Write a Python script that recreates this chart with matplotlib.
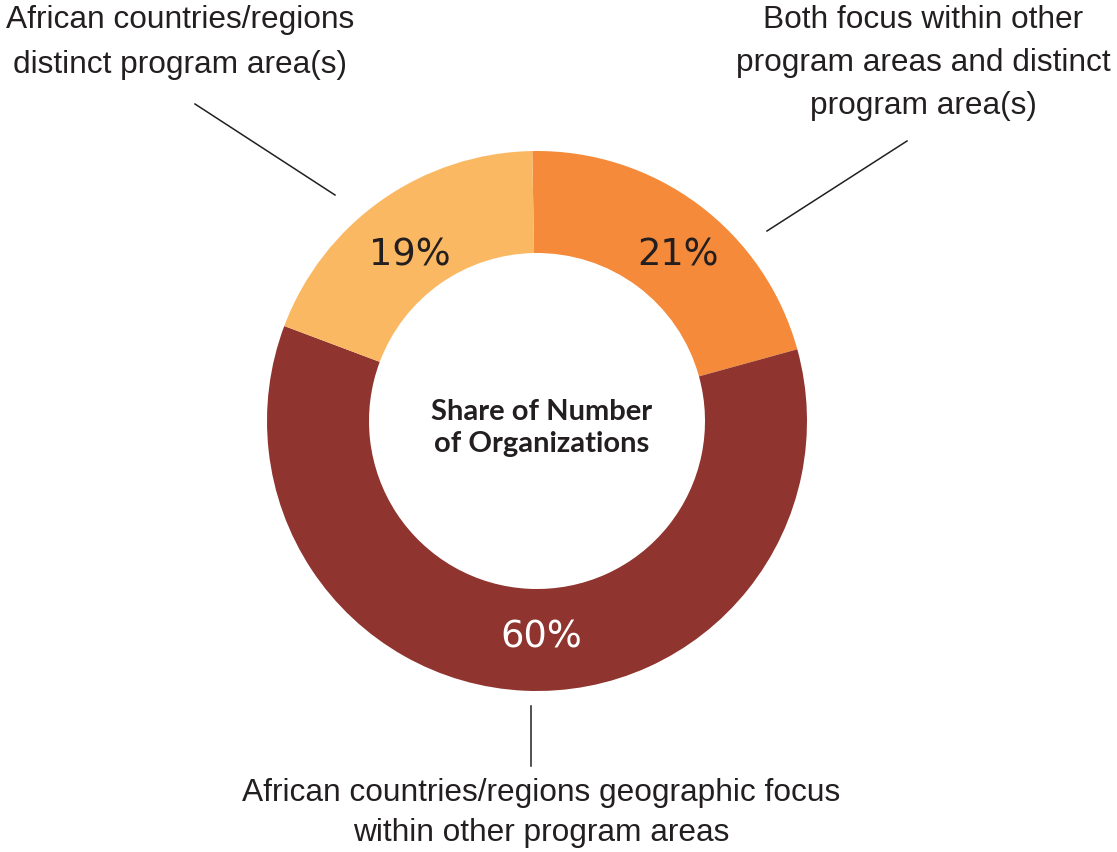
import matplotlib.pyplot as plt

# data
categories = ["Both focus within other\nprogram areas and distinct\nprogram area(s)",
              "African countries/regions geographic focus\nwithin other program areas",
              "African countries/regions\ndistinct program area(s)"]
shares = [21, 60, 19]
pct_labels = ["21%", "60%", "19%"]
colors = ["#F48A3A", "#8F342E", "#FBB862"]
pct_colors = ["#231F20", "white", "#231F20"]

W, H = 1117, 853
fig = plt.figure(figsize=(W / 100, H / 100), dpi=100)
ax = fig.add_axes([0, 0, 1, 1])

cx, cy = 537, H - 422
r_out, r_in = 270, 168

ax.pie(shares, colors=colors, startangle=91, counterclock=False,
       center=(cx, cy), radius=r_out, frame=True,
       wedgeprops=dict(width=r_out - r_in, linewidth=0))
ax.set_xlim(0, W)
ax.set_ylim(0, H)
ax.set_aspect("equal")
ax.axis("off")

# percent labels
pct_pos = [(678, 255), (541, 637), (410, 255)]
for (x, y), lab, c in zip(pct_pos, pct_labels, pct_colors):
    ax.text(x, H - y, lab, ha="center", va="center", fontsize=26.5,
            color=c, family="DejaVu Sans")

# centre title
ax.text(cx + 5, H - 412, "Share of Number", ha="center", va="center",
        fontsize=21, fontweight="bold", color="#231F20", family="Lato")
ax.text(cx + 5, H - 444, "of Organizations", ha="center", va="center",
        fontsize=21, fontweight="bold", color="#231F20", family="Lato")

# outside labels, one line at a time
label_pos = [(923, [20, 63, 106]), (541, [793, 833]), (180, [20, 65])]
for (x, ys), cat in zip(label_pos, categories):
    for y, line in zip(ys, cat.split("\n")):
        ax.text(x, H - y, line, ha="center", va="center", fontsize=22.8,
                color="#231F20", family="Liberation Sans")

# leader lines
leaders = [((907, 142), (767, 232)), ((531, 707), (531, 767)), ((195, 105), (335, 196))]
for (x0, y0), (x1, y1) in leaders:
    ax.plot([x0, x1], [H - y0, H - y1], color="#231F20", lw=1.1)

fig.savefig("out.png", dpi=100)
